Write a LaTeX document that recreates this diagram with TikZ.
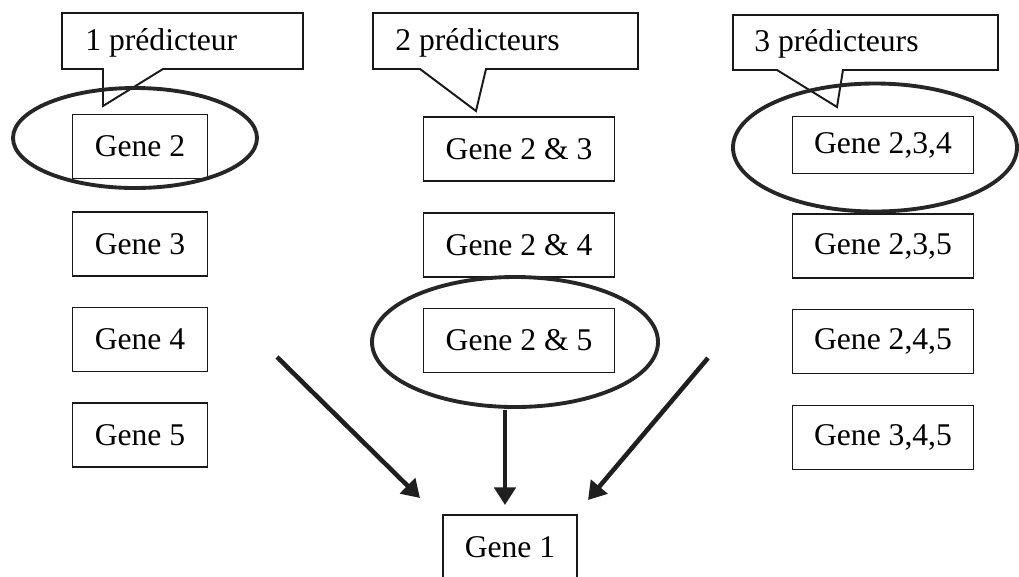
\documentclass[tikz,border=0pt]{standalone}
\usepackage{fontspec}
\setmainfont{Liberation Serif}
\usetikzlibrary{arrows.meta}
\begin{document}
\begin{tikzpicture}[x=0.02cm,y=-0.02cm,
  gene/.style={draw=black!90,line width=1.1pt,fill=white,inner sep=0pt,
    minimum height=1.28cm,font=\fontsize{18}{22}\selectfont},
  colA/.style={gene,minimum width=2.7cm},
  colB/.style={gene,minimum width=3.82cm},
  colC/.style={gene,minimum width=3.62cm},
  label/.style={anchor=west,inner sep=0pt,font=\fontsize{18}{22}\selectfont},
  bubble/.style={draw=black!90,line width=1.1pt,fill=white,line join=miter},
  ring/.style={draw=black!85,line width=2.2pt},
  flow/.style={draw=black!88,line width=2.6pt,-{Triangle[length=10pt,width=12pt]}}]

\useasboundingbox[fill=white] (0,0) rectangle (1019,576);

% first column: one predictor
\node[colA] (g2)  at (140,146.5) {Gene 2};
\node[colA] (g3)  at (140,244)   {Gene 3};
\node[colA] (g4)  at (140,339.5) {Gene 4};
\node[colA] (g5)  at (140,435)   {Gene 5};

% second column: two predictors
\node[colB] (g23) at (519,149)   {Gene 2 \& 3};
\node[colB] (g24) at (519,245)   {Gene 2 \& 4};
\node[colB] (g25) at (519,340.5) {Gene 2 \& 5};

% third column: three predictors
\node[colC,minimum height=1.14cm] (g234) at (883,145) {Gene 2,3,4};
\node[colC] (g235) at (883,246)   {Gene 2,3,5};
\node[colC] (g245) at (883,341.5) {Gene 2,4,5};
\node[colC] (g345) at (883,437.5) {Gene 3,4,5};

% target gene, running off the lower edge
\node[gene,minimum width=2.68cm] (g1) at (510,547) {Gene 1};

% callouts
\draw[bubble] (62,13) -- (303,13) -- (303,69) -- (163,69) -- (103,106)
  -- (103,69) -- (62,69) -- cycle;
\node[label] (t1) at (85,43) {1 prédicteur};

\draw[bubble] (373,13) -- (638,13) -- (638,69) -- (486,69) -- (476,111)
  -- (420,69) -- (373,69) -- cycle;
\node[label] (t2) at (395,43) {2 prédicteurs};

\draw[bubble] (733,15) -- (998,15) -- (998,70) -- (843,70) -- (837,107)
  -- (777,70) -- (733,70) -- cycle;
\node[label] (t3) at (754,44) {3 prédicteurs};

% selected sets
\draw[ring] (135,138) ellipse [x radius=122,y radius=50];
\draw[ring] (515,342) ellipse [x radius=143,y radius=65];
\draw[ring] (875,147.5) ellipse [x radius=142,y radius=64];

% arrows towards the target gene
\coordinate (aL0) at (277,357);
\coordinate (aL1) at (420,498);
\coordinate (aM0) at (505,410);
\coordinate (aM1) at (505,505);
\coordinate (aR0) at (708,358);
\coordinate (aR1) at (588,500);
\draw[flow] (aL0) -- (aL1);
\draw[flow] (aM0) -- (aM1);
\draw[flow] (aR0) -- (aR1);
\end{tikzpicture}
\end{document}
